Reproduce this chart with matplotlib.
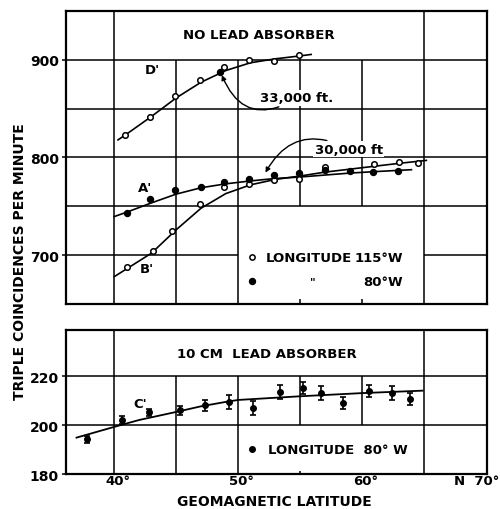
import numpy as np
import matplotlib.pyplot as plt

plt.rcParams['font.family'] = 'DejaVu Sans'
plt.rcParams['font.weight'] = 'bold'

# datos
# D' : 33,000 ft, longitud 115 W
lat_d = [40.9, 42.9, 44.9, 46.95, 48.9, 50.85, 52.9, 54.95]
cnt_d = [822.8, 841.5, 863, 878.9, 892.5, 900.3, 899.3, 905.4]
lat_d_80 = [48.56]
cnt_d_80 = [887.4]
curva_d_lat = [40.3, 41, 43, 45, 47, 49, 51, 53, 55, 55.9]
curva_d_cnt = [818, 824, 842, 861, 877, 889, 897, 901, 904, 905.5]

# A' : 30,000 ft, longitud 80 W
lat_a = [41.0, 42.9, 44.9, 47.0, 48.9, 50.9, 52.9, 54.9, 57.0, 59.0, 60.9, 62.9]
cnt_a = [743.6, 757, 767, 770, 774.5, 778, 782, 784, 787, 786, 784.7, 786]
curva_a_lat = [40.0, 41, 43, 45, 47, 49, 51, 53, 55, 57, 59, 61, 64]
curva_a_cnt = [739.5, 744, 753.5, 762.5, 769, 773, 776, 778.5, 780, 782, 784, 785.5, 787.5]

# B' : 30,000 ft, longitud 115 W
lat_b = [41.0, 43.1, 44.7, 46.9, 48.9, 50.9, 52.9, 54.9, 57.0, 61.0, 63.0, 64.5]
cnt_b = [687.5, 704, 725, 752, 769.4, 772.5, 777, 778, 790.5, 792.9, 795.6, 793.9]
curva_b_lat = [40.0, 41, 43, 45, 47, 49, 51, 53, 55, 57, 59, 61, 63, 65.2]
curva_b_cnt = [678, 686, 702, 726, 748, 763, 772, 777.5, 781, 785, 788, 791, 794, 797]

# C' : 10 cm de plomo, longitud 80 W
lat_c = [37.76, 40.6, 42.8, 45.3, 47.3, 49.3, 51.2, 53.35, 55.2, 56.7, 58.5, 60.6, 62.4, 63.9]
cnt_c = [194.3, 202.2, 205.4, 206.1, 208.2, 209.6, 207.2, 213.6, 215.3, 213.2, 209.2, 214.2, 213.2, 210.8]
err_c = [1.5, 1.8, 1.5, 1.9, 2.2, 2.7, 2.8, 2.9, 2.5, 3.0, 2.3, 2.4, 2.8, 2.5]
curva_c_lat = [36.95, 40, 42, 45, 47, 49, 50, 52, 55, 60, 64.9]
curva_c_cnt = [195, 199.4, 202.2, 205.5, 207.8, 209.6, 210.4, 211, 211.9, 213.2, 214.2]

xmin, xmax = 36.1, 70.1
gc = 'black'
glw = 1.1
fs = 9.5

fig = plt.figure(figsize=(5, 5.1), dpi=100)
ax1 = fig.add_axes([0.132, 0.402, 0.842, 0.5745])
ax2 = fig.add_axes([0.132, 0.068, 0.842, 0.283])

for ax in (ax1, ax2):
    ax.set_xlim(xmin, xmax)
    for s in ax.spines.values():
        s.set_linewidth(1.6)
    ax.tick_params(axis='x', length=0, labelbottom=False)
    ax.tick_params(axis='y', length=3, width=1.1, direction='out', labelsize=10, pad=2)

# ---- panel superior ----
ax1.set_ylim(650, 950)
ax1.set_yticks([700, 800, 900])
ax1.hlines([900, 850, 800, 750], xmin, xmax, color=gc, lw=glw)
ax1.hlines(700, xmin, 50, color=gc, lw=glw)
ax1.hlines(700, 65, xmax, color=gc, lw=glw)
ax1.vlines([40, 65], 650, 950, color=gc, lw=glw)
ax1.vlines([45, 50], 650, 900, color=gc, lw=glw)
ax1.vlines(55, 750, 905, color=gc, lw=glw)
ax1.vlines(60, 750, 900, color=gc, lw=glw)
ax1.vlines([55, 60], 650, 655, color=gc, lw=glw)

ax1.plot(curva_d_lat, curva_d_cnt, 'k-', lw=1.2)
ax1.plot(curva_a_lat, curva_a_cnt, 'k-', lw=1.2)
ax1.plot(curva_b_lat, curva_b_cnt, 'k-', lw=1.2)
ax1.plot(lat_d, cnt_d, 'o', ms=4, mfc='white', mec='k', mew=1.1)
ax1.plot(lat_b, cnt_b, 'o', ms=4, mfc='white', mec='k', mew=1.1)
ax1.plot(lat_a, cnt_a, 'o', ms=4.3, mfc='k', mec='k')
ax1.plot(lat_d_80, cnt_d_80, 'o', ms=4.3, mfc='k', mec='k')

ax1.text(51.7, 926, 'NO LEAD ABSORBER', ha='center', va='center', fontsize=fs)
ax1.text(43.1, 890, "D'", ha='center', va='center', fontsize=fs)
ax1.text(42.5, 769, "A'", ha='center', va='center', fontsize=fs)
ax1.text(42.6, 686, "B'", ha='center', va='center', fontsize=fs)

ax1.annotate('33,000 ft.', xy=(48.6, 887), xytext=(51.8, 861),
             ha='left', va='center', fontsize=fs,
             bbox=dict(fc='white', ec='none', pad=1),
             arrowprops=dict(arrowstyle='-|>', color='k', lw=1,
                             mutation_scale=7,
                             connectionstyle='arc3,rad=-0.6'))
ax1.annotate('30,000 ft', xy=(52.1, 782), xytext=(56.2, 808.5),
             ha='left', va='center', fontsize=fs,
             bbox=dict(fc='white', ec='none', pad=1),
             arrowprops=dict(arrowstyle='-|>', color='k', lw=1,
                             mutation_scale=7,
                             connectionstyle='arc3,rad=0.5'))

ax1.plot([51.1], [697.6], 'o', ms=3.8, mfc='white', mec='k', mew=1.1)
ax1.plot([51.1], [673.5], 'o', ms=4.3, mfc='k', mec='k')
ax1.text(52.2, 697.6, 'LONGITUDE', ha='left', va='center', fontsize=fs)
ax1.text(63.3, 697.6, '115°W', ha='right', va='center', fontsize=fs)
ax1.text(56.0, 673.5, '"', ha='center', va='center', fontsize=8)
ax1.text(63.3, 673.5, '80°W', ha='right', va='center', fontsize=fs)

# ---- panel inferior ----
ax2.set_ylim(180, 239)
ax2.set_yticks([180, 200, 220])
ax2.hlines([220, 200], xmin, xmax, color=gc, lw=glw)
ax2.vlines([40, 65], 180, 239, color=gc, lw=glw)
ax2.vlines([45, 50], 180, 220, color=gc, lw=glw)
ax2.vlines([55, 60], 200, 220, color=gc, lw=glw)
ax2.vlines(55, 180, 181.5, color=gc, lw=glw)

ax2.plot(curva_c_lat, curva_c_cnt, 'k-', lw=1.3)
ax2.errorbar(lat_c, cnt_c, yerr=err_c, fmt='o', ms=4, color='k',
             elinewidth=1.2, capsize=2.2, capthick=1.2)

ax2.text(52.3, 229.2, '10 CM  LEAD ABSORBER', ha='center', va='center', fontsize=fs)
ax2.text(42.1, 209, "C'", ha='center', va='center', fontsize=fs)
ax2.plot([51.1], [190.5], 'o', ms=4, mfc='k', mec='k')
ax2.text(52.4, 190.3, 'LONGITUDE  80° W', ha='left', va='center', fontsize=fs)

# etiquetas del eje x
for lat in [40, 50, 60]:
    ax2.text(lat + 0.3, -0.045, '%d°' % lat, ha='center', va='center', fontsize=fs,
             transform=ax2.get_xaxis_transform())
ax2.text(xmax + 1.0, -0.045, 'N  70°', ha='right', va='center', fontsize=fs,
         transform=ax2.get_xaxis_transform())

fig.text(0.548, 0.016, 'GEOMAGNETIC LATITUDE', ha='center', va='center', fontsize=10)
fig.text(0.040, 0.487, 'TRIPLE COINCIDENCES PER MINUTE', rotation=90,
         ha='center', va='center', fontsize=10)

plt.savefig('out.png', dpi=100)
plt.close()
